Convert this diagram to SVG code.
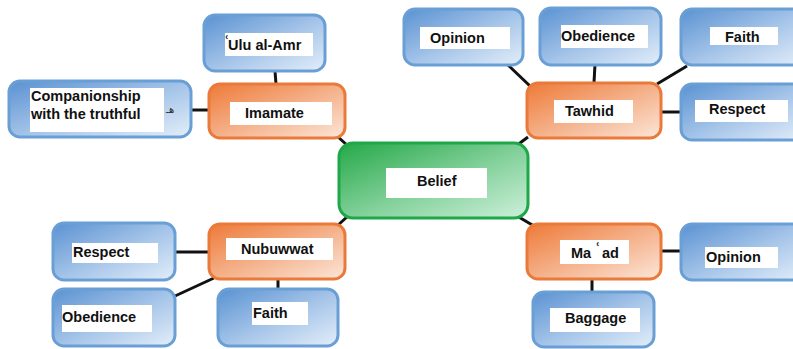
<svg xmlns="http://www.w3.org/2000/svg" width="793" height="349" viewBox="0 0 793 349">
  <defs>
    <linearGradient id="gBlue" x1="0" y1="0" x2="1" y2="1">
      <stop offset="0" stop-color="#5a92d2"/>
      <stop offset="0.55" stop-color="#a9c7ea"/>
      <stop offset="1" stop-color="#e3eef9"/>
    </linearGradient>
    <linearGradient id="gOrange" x1="0" y1="0" x2="1" y2="1">
      <stop offset="0" stop-color="#ee7a38"/>
      <stop offset="0.55" stop-color="#f5b590"/>
      <stop offset="1" stop-color="#fce6d9"/>
    </linearGradient>
    <linearGradient id="gGreen" x1="0" y1="0" x2="1" y2="1">
      <stop offset="0" stop-color="#25a848"/>
      <stop offset="0.55" stop-color="#86d29d"/>
      <stop offset="1" stop-color="#cdf0da"/>
    </linearGradient>
    <style>
      .blue { fill: url(#gBlue); stroke: #6a9fd6; stroke-width: 3; }
      .orange { fill: url(#gOrange); stroke: #ea7a3a; stroke-width: 3; }
      .green { fill: url(#gGreen); stroke: #1ea84a; stroke-width: 3; }
      .lbl { fill: #ffffff; }
      .t { font-family: "Liberation Sans", Arial, sans-serif; font-weight: bold; font-size: 14.5px; fill: #111111; }
      .mark { font-family: "DejaVu Sans", sans-serif; font-weight: bold; font-size: 14px; fill: #222222; }
      .ar { font-family: "DejaVu Sans", sans-serif; font-size: 10px; fill: #333333; }
      .link { stroke: #111111; stroke-width: 3; fill: none; }
    </style>
  </defs>

  <rect width="793" height="349" fill="#ffffff"/>

  <!-- connectors -->
  <g id="connectors">
    <line class="link" x1="275" y1="71" x2="276" y2="84"/>
    <line class="link" x1="191" y1="110" x2="209" y2="110"/>
    <line class="link" x1="337" y1="136" x2="348" y2="146"/>
    <line class="link" x1="508" y1="65" x2="530" y2="86"/>
    <line class="link" x1="595" y1="65" x2="594" y2="82"/>
    <line class="link" x1="687" y1="66" x2="657" y2="84"/>
    <line class="link" x1="661" y1="112" x2="681" y2="112"/>
    <line class="link" x1="528" y1="137" x2="516" y2="146"/>
    <line class="link" x1="176" y1="252" x2="209" y2="252"/>
    <line class="link" x1="175" y1="296" x2="214" y2="278"/>
    <line class="link" x1="278" y1="279" x2="278" y2="289"/>
    <line class="link" x1="337" y1="226" x2="348" y2="216"/>
    <line class="link" x1="517" y1="216" x2="534" y2="226"/>
    <line class="link" x1="661" y1="251" x2="681" y2="251"/>
    <line class="link" x1="592" y1="279" x2="592" y2="293"/>
  </g>

  <!-- centre -->
  <g id="belief">
    <rect class="green" x="339" y="143" width="189" height="75" rx="14"/>
    <rect class="lbl" x="386" y="168" width="101" height="30"/>
    <text class="t" x="417" y="186" font-size="15">Belief</text>
  </g>

  <!-- Imamate branch -->
  <g id="imamate">
    <rect class="orange" x="209" y="84" width="136" height="54" rx="11"/>
    <rect class="lbl" x="230" y="102" width="102" height="23"/>
    <text class="t" x="245" y="118">Imamate</text>
  </g>
  <g id="ulu-al-amr">
    <rect class="blue" x="204" y="15" width="121" height="56" rx="11"/>
    <rect class="lbl" x="225" y="33" width="88" height="23"/>
    <text class="mark" x="224" y="46">ʿ</text>
    <text class="t" x="228" y="50" font-size="12.7">Ulu al-Amr</text>
  </g>
  <g id="companionship">
    <rect class="blue" x="9" y="81" width="182" height="56" rx="11"/>
    <rect class="lbl" x="30" y="88" width="134" height="44"/>
    <text class="t" x="31" y="101" font-size="14">Companionship</text>
    <text class="t" x="31" y="119" font-size="14">with the truthful</text>
    <text class="ar" x="166" y="113">هـ</text>
  </g>

  <!-- Tawhid branch -->
  <g id="tawhid">
    <rect class="orange" x="527" y="83" width="134" height="55" rx="11"/>
    <rect class="lbl" x="554" y="100" width="79" height="23"/>
    <text class="t" x="565" y="116">Tawhid</text>
  </g>
  <g id="opinion-1">
    <rect class="blue" x="404" y="9" width="119" height="56" rx="11"/>
    <rect class="lbl" x="420" y="27" width="90" height="22"/>
    <text class="t" x="430" y="43">Opinion</text>
  </g>
  <g id="obedience-1">
    <rect class="blue" x="540" y="8" width="121" height="57" rx="11"/>
    <rect class="lbl" x="561" y="25" width="87" height="23"/>
    <text class="t" x="561" y="41">Obedience</text>
  </g>
  <g id="faith-1">
    <rect class="blue" x="681" y="9" width="125" height="56" rx="11"/>
    <rect class="lbl" x="710" y="27" width="68" height="18"/>
    <text class="t" x="725" y="42" font-size="14">Faith</text>
  </g>
  <g id="respect-1">
    <rect class="blue" x="681" y="84" width="125" height="56" rx="11"/>
    <rect class="lbl" x="695" y="100" width="93" height="22"/>
    <text class="t" x="709" y="114" font-size="14">Respect</text>
  </g>

  <!-- Nubuwwat branch -->
  <g id="nubuwwat">
    <rect class="orange" x="209" y="224" width="136" height="55" rx="11"/>
    <rect class="lbl" x="226" y="238" width="107" height="22"/>
    <text class="t" x="241" y="254">Nubuwwat</text>
  </g>
  <g id="respect-2">
    <rect class="blue" x="53" y="223" width="122" height="57" rx="11"/>
    <rect class="lbl" x="72" y="243" width="86" height="20"/>
    <text class="t" x="73" y="257" font-size="14">Respect</text>
  </g>
  <g id="obedience-2">
    <rect class="blue" x="53" y="289" width="122" height="57" rx="11"/>
    <rect class="lbl" x="62" y="305" width="90" height="27"/>
    <text class="t" x="62" y="322" font-size="17">Obedience</text>
  </g>
  <g id="faith-2">
    <rect class="blue" x="218" y="289" width="120" height="57" rx="11"/>
    <rect class="lbl" x="252" y="302" width="56" height="23"/>
    <text class="t" x="253" y="318" font-size="14">Faith</text>
  </g>

  <!-- Ma'ad branch -->
  <g id="maad">
    <rect class="orange" x="527" y="224" width="134" height="55" rx="11"/>
    <rect class="lbl" x="560" y="240" width="69" height="24"/>
    <text class="t" x="571" y="258">Ma</text>
    <text class="mark" x="595" y="253">ʿ</text>
    <text class="t" x="602" y="258">ad</text>
  </g>
  <g id="opinion-2">
    <rect class="blue" x="681" y="224" width="125" height="56" rx="11"/>
    <rect class="lbl" x="705" y="247" width="73" height="21"/>
    <text class="t" x="706" y="262">Opinion</text>
  </g>
  <g id="baggage">
    <rect class="blue" x="533" y="292" width="121" height="55" rx="11"/>
    <rect class="lbl" x="550" y="308" width="90" height="24"/>
    <text class="t" x="565" y="323">Baggage</text>
  </g>
</svg>
